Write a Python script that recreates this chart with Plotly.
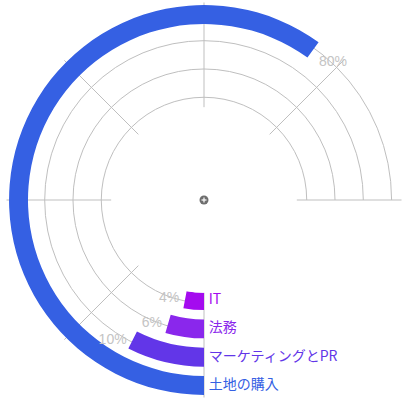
import plotly.graph_objects as go

# radial bar data (inner -> outer)
categories = ["IT", "法務", "マーケティングとPR", "土地の購入"]
values = [4, 6, 10, 80]
value_labels = ["4%", "6%", "10%", "80%"]
colors = ["#a40bef", "#8a27ec", "#6236e8", "#3560e3"]

max_value = 100
sweep = 270  # degrees used by the full value axis
deg = sweep / max_value

idx = list(range(len(categories)))
bar_base = [i - 0.41 for i in idx]
bar_mid = [i - 0.075 for i in idx]
theta_end = [v * deg for v in values]

W, H = 409, 400
cx, cy, R = 204, 200, 197.5

fig = go.Figure()

fig.add_trace(go.Barpolar(
    r=[0.67] * len(idx),
    base=bar_base,
    theta=[t / 2 for t in theta_end],
    width=theta_end,
    marker=dict(color=colors, line=dict(width=0)),
    hoverinfo="skip",
))

# category names right of the start line
fig.add_trace(go.Scatterpolar(
    r=bar_mid,
    theta=[0] * len(idx),
    mode="markers+text",
    marker=dict(size=6, opacity=0),
    text=categories,
    textposition="middle right",
    textfont=dict(color=colors, size=14, family="Noto Sans CJK JP"),
    hoverinfo="skip",
))

# value labels at the end of each bar
fig.add_trace(go.Scatterpolar(
    r=bar_mid,
    theta=theta_end,
    mode="markers+text",
    marker=dict(size=8, opacity=0),
    text=value_labels,
    textposition=["middle left" if t < 180 else "bottom right" for t in theta_end],
    textfont=dict(color="#c4c4c4", size=14, family="Liberation Sans"),
    hoverinfo="skip",
))

grid = "#bfbfbf"
fig.update_layout(
    width=W, height=H,
    margin=dict(l=0, r=0, t=0, b=0),
    paper_bgcolor="white",
    plot_bgcolor="white",
    showlegend=False,
    polar=dict(
        domain=dict(x=[(cx - R) / W, (cx + R) / W], y=[(H - cy - R) / H, (H - cy + R) / H]),
        sector=[0, 270],
        hole=0.47,
        bgcolor="white",
        radialaxis=dict(
            range=[-0.35, 3.35],
            tickvals=idx,
            showticklabels=False,
            ticks="",
            showline=False,
            gridcolor=grid,
            gridwidth=1,
        ),
        angularaxis=dict(
            thetaunit="degrees",
            rotation=270,
            direction="clockwise",
            tickmode="linear",
            tick0=0,
            dtick=45,
            showticklabels=False,
            ticks="",
            showline=False,
            gridcolor=grid,
            gridwidth=1,
        ),
    ),
)

# small zoom-out button in the middle
fig.add_shape(type="circle", xref="paper", yref="paper",
              xsizemode="pixel", ysizemode="pixel",
              xanchor=cx / W, yanchor=(H - cy) / H,
              x0=-4.5, x1=4.5, y0=-4.5, y1=4.5,
              fillcolor="#6e6e6e", line=dict(width=0))
fig.add_shape(type="line", xref="paper", yref="paper",
              xsizemode="pixel", ysizemode="pixel",
              xanchor=cx / W, yanchor=(H - cy) / H,
              x0=-2.5, x1=2.5, y0=0, y1=0, line=dict(color="white", width=1.2))
fig.add_shape(type="line", xref="paper", yref="paper",
              xsizemode="pixel", ysizemode="pixel",
              xanchor=cx / W, yanchor=(H - cy) / H,
              x0=0, x1=0, y0=-2.5, y1=2.5, line=dict(color="white", width=1.2))

# drop the default body margin so the figure sits at the window corner
fig.write_html("out.html", config={"displayModeBar": False},
               post_script="document.body.style.margin = '0';")
